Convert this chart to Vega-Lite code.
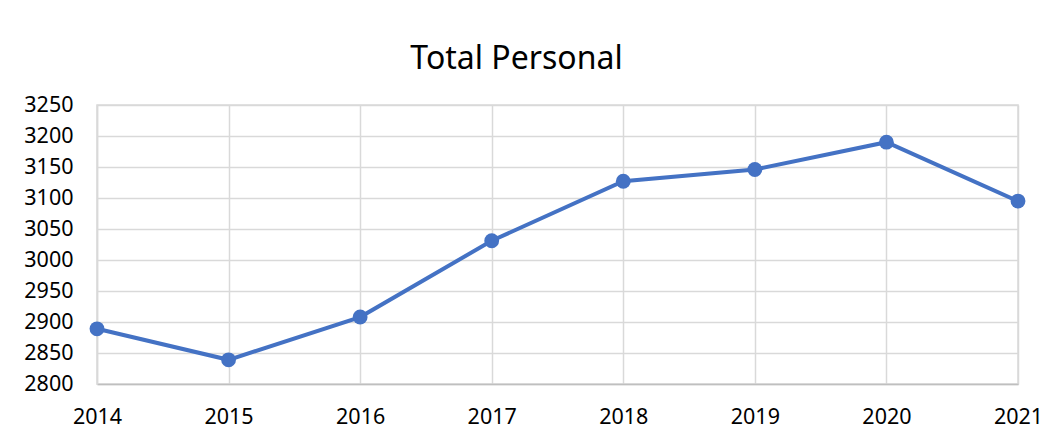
{
  "$schema": "https://vega.github.io/schema/vega-lite/v6.json",
  "autosize": {"type": "none"},
  "padding": {"left": 97, "top": 105, "right": 46, "bottom": 59},
  "width": 921,
  "height": 279,
  "background": "white",
  "title": {
    "text": "Total Personal",
    "font": "Noto Sans",
    "fontSize": 32,
    "fontWeight": "normal",
    "color": "#000000",
    "anchor": "middle",
    "dx": -41,
    "offset": 18
  },
  "data": {
    "values": [
      {"year": "2014", "value": 2889},
      {"year": "2015", "value": 2839},
      {"year": "2016", "value": 2908},
      {"year": "2017", "value": 3031},
      {"year": "2018", "value": 3127},
      {"year": "2019", "value": 3146},
      {"year": "2020", "value": 3190},
      {"year": "2021", "value": 3095}
    ]
  },
  "encoding": {
    "x": {
      "field": "year",
      "type": "ordinal",
      "scale": {"type": "point", "padding": 0},
      "axis": {
        "title": null,
        "labelAngle": 0,
        "labelFont": "Noto Sans",
        "labelFontSize": 21.5,
        "labelColor": "#000000",
        "labelPadding": 22,
        "ticks": false,
        "domainColor": "#bfbfbf",
        "domainWidth": 1.5,
        "grid": true,
        "gridColor": "#d9d9d9",
        "gridWidth": 1.5
      }
    },
    "y": {
      "field": "value",
      "type": "quantitative",
      "scale": {"domain": [2800, 3250], "nice": false, "zero": false},
      "axis": {
        "title": null,
        "format": "d",
        "values": [2800, 2850, 2900, 2950, 3000, 3050, 3100, 3150, 3200, 3250],
        "labelFont": "Noto Sans",
        "labelFontSize": 21.5,
        "labelColor": "#000000",
        "labelPadding": 24,
        "ticks": false,
        "domainColor": "#d9d9d9",
        "domainWidth": 1.5,
        "grid": true,
        "gridColor": "#d9d9d9",
        "gridWidth": 1.5
      }
    }
  },
  "layer": [
    {"mark": {"type": "line", "color": "#4472C4", "strokeWidth": 4}},
    {"mark": {"type": "point", "filled": true, "color": "#4472C4", "size": 220, "opacity": 1}}
  ],
  "config": {
    "view": {"stroke": "#d9d9d9", "strokeWidth": 1.5}
  }
}
